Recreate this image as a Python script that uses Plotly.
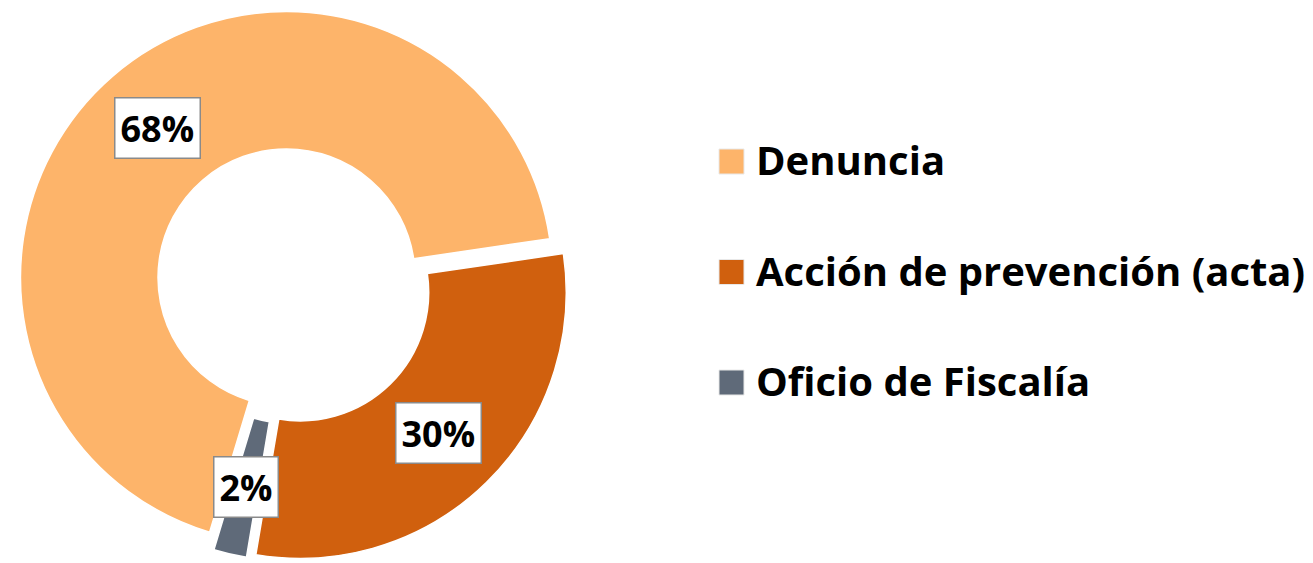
import math
import plotly.graph_objects as go

# ---- data ----
labels = ["Denuncia", "Acción de prevención (acta)", "Oficio de Fiscalía"]
values = [68, 30, 2]
colors = ["#FDB46A", "#D0600E", "#5F6A79"]

W, H = 1313, 563
ROT = -163.2
PULL = 0.038
HOLE = 0.483
DOM_X = [0.002, 0.4445]
DOM_Y = [0.003, 0.984]

fig = go.Figure()
fig.add_trace(go.Pie(
    labels=labels, values=values, sort=False, direction="clockwise",
    rotation=ROT, hole=HOLE, pull=[PULL] * len(values),
    marker=dict(colors=colors, line=dict(color="white", width=1.5)),
    textinfo="none", hoverinfo="label+percent", showlegend=False,
    domain=dict(x=DOM_X, y=DOM_Y),
))

# label boxes placed at the middle of each ring segment (computed from data)
cx = (DOM_X[0] + DOM_X[1]) / 2 * W
cy = (1 - (DOM_Y[0] + DOM_Y[1]) / 2) * H
Rpix = min((DOM_X[1] - DOM_X[0]) * W, (DOM_Y[1] - DOM_Y[0]) * H) / 2 / (1 + PULL)
rho = Rpix * (1 + HOLE) / 2 + PULL * Rpix
total = sum(values)
cum = 0
for v in values:
    ang = math.radians(ROT + 360 * (cum + v / 2) / total)
    cum += v
    px = cx + rho * math.sin(ang)
    py = cy - rho * math.cos(ang)
    fig.add_annotation(
        x=px / W, y=1 - py / H, xref="paper", yref="paper",
        text=f"<b>{round(100 * v / total)}%</b>", showarrow=False,
        font=dict(family="Open Sans", size=36, color="black"),
        bgcolor="white", bordercolor="#8A8A8A", borderwidth=1.5, borderpad=5,
        xanchor="center", yanchor="middle",
    )

# custom legend
leg_y = [161.5, 272, 382.5]
for lab, col, y in zip(labels, colors, leg_y):
    fig.add_shape(type="rect", xref="paper", yref="paper",
                  x0=719 / W, x1=744 / W, y0=1 - (y + 12.5) / H, y1=1 - (y - 12.5) / H,
                  fillcolor=col, line=dict(color="#E8E8E8", width=1))
    fig.add_annotation(x=754 / W, y=1 - (y - 2) / H, xref="paper", yref="paper",
                       text=f"<b>{lab}</b>", showarrow=False,
                       font=dict(family="Open Sans", size=40, color="black"),
                       xanchor="left", yanchor="middle")

fig.update_layout(width=W, height=H, margin=dict(l=0, r=0, t=0, b=0),
                  paper_bgcolor="white", plot_bgcolor="white")
fig.write_html("out.html", config={"displayModeBar": False},
               post_script="document.body.style.margin='0';document.body.style.overflow='hidden';")
